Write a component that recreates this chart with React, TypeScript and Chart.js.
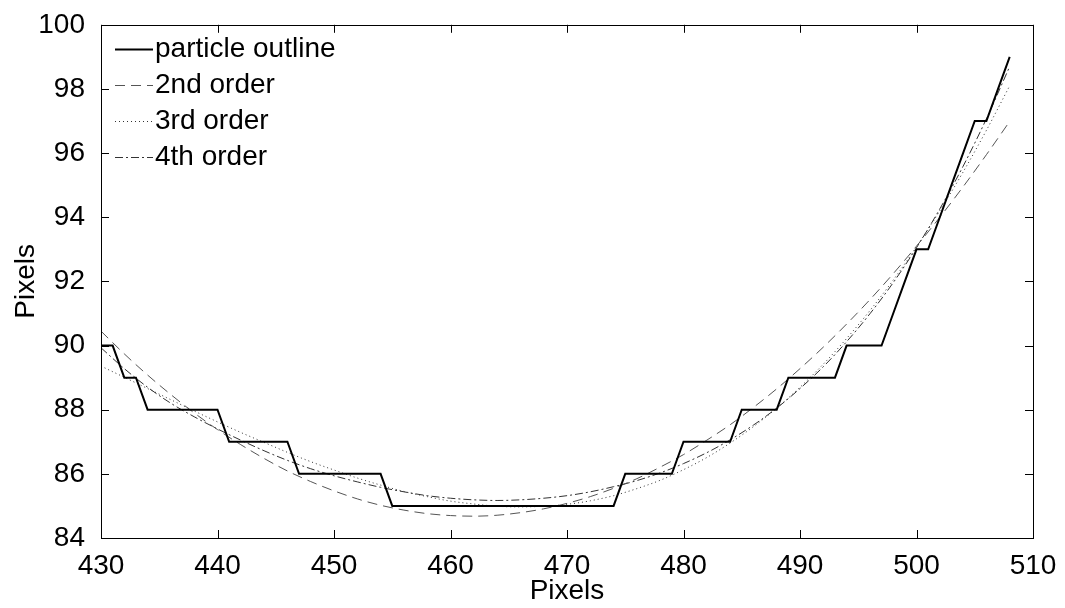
import React, { useEffect, useRef } from 'react';
import { Chart, registerables } from 'chart.js';

Chart.register(...registerables);

// ---- data ----
const outlineX = [430, 431, 432, 433, 434, 440, 441, 446, 447, 454, 455, 474, 475, 479, 480, 484, 485, 488, 489, 493, 494, 497, 498, 499, 500, 501, 502, 503, 504, 505, 506, 507, 508];
const outlineY = [90, 90, 89, 89, 88, 88, 87, 87, 86, 86, 85, 85, 86, 86, 87, 87, 88, 88, 89, 89, 90, 90, 91, 92, 93, 93, 94, 95, 96, 97, 97, 98, 99];

const fitX = [430, 432, 434, 436, 438, 440, 442, 444, 446, 448, 450, 452, 454, 456, 458, 460, 462, 464, 466, 468, 470, 472, 474, 476, 478, 480, 482, 484, 486, 488, 490, 492, 494, 496, 498, 500, 502, 504, 506, 508];
const order2Y = [90.45, 89.74, 89.08, 88.47, 87.90, 87.38, 86.91, 86.48, 86.09, 85.76, 85.47, 85.22, 85.02, 84.87, 84.76, 84.70, 84.68, 84.71, 84.79, 84.91, 85.08, 85.29, 85.55, 85.85, 86.21, 86.60, 87.05, 87.53, 88.07, 88.65, 89.28, 89.95, 90.67, 91.43, 92.24, 93.10, 94.00, 94.95, 95.95, 96.99];
const order3Y = [89.36, 89.01, 88.66, 88.31, 87.96, 87.62, 87.29, 86.98, 86.67, 86.38, 86.12, 85.87, 85.65, 85.45, 85.29, 85.15, 85.06, 84.99, 84.97, 84.99, 85.05, 85.16, 85.32, 85.54, 85.80, 86.13, 86.51, 86.96, 87.47, 88.05, 88.70, 89.42, 90.22, 91.09, 92.04, 93.08, 94.20, 95.41, 96.71, 98.10];
const order4Y = [89.93, 89.28, 88.70, 88.20, 87.78, 87.40, 87.05, 86.72, 86.42, 86.16, 85.94, 85.75, 85.58, 85.44, 85.32, 85.24, 85.19, 85.17, 85.19, 85.24, 85.32, 85.44, 85.60, 85.79, 86.03, 86.32, 86.66, 87.06, 87.52, 88.05, 88.66, 89.34, 90.12, 90.99, 91.96, 93.05, 94.26, 95.59, 97.07, 98.70];

const xTicks = [430, 440, 450, 460, 470, 480, 490, 500, 510];
const yTicks = [84, 86, 88, 90, 92, 94, 96, 98, 100];
const legendLabels = ['particle outline', '2nd order', '3rd order', '4th order'];
const axisTitle = 'Pixels';

const FONT = "'Liberation Sans', Arial, Helvetica, sans-serif";
const FONT_SIZE = 28;

export default function App() {
  const ref = useRef<HTMLCanvasElement>(null);

  useEffect(() => {
    const canvas = ref.current;
    if (!canvas) return;
    const toPts = (xs: number[], ys: number[]) => xs.map((x, i) => ({ x, y: ys[i] }));

    const boxPlugin = {
      id: 'matlabBox',
      afterDraw(chart: any) {
        const { ctx, chartArea } = chart;
        const { left, right, top, bottom } = chartArea;
        const xs = chart.scales.x;
        const ys = chart.scales.y;
        ctx.save();
        ctx.strokeStyle = '#000';
        ctx.lineWidth = 1;
        ctx.setLineDash([]);
        ctx.strokeRect(Math.round(left) + 0.5, Math.round(top) + 0.5, Math.round(right - left), Math.round(bottom - top));
        const tl = 8;
        ctx.beginPath();
        xTicks.forEach((v) => {
          const px = Math.round(xs.getPixelForValue(v)) + 0.5;
          ctx.moveTo(px, bottom);
          ctx.lineTo(px, bottom - tl);
          ctx.moveTo(px, top);
          ctx.lineTo(px, top + tl);
        });
        yTicks.forEach((v) => {
          const py = Math.round(ys.getPixelForValue(v)) + 0.5;
          ctx.moveTo(left, py);
          ctx.lineTo(left + tl, py);
          ctx.moveTo(right, py);
          ctx.lineTo(right - tl, py);
        });
        ctx.stroke();

        // legend (inside the axes, top-left, no box)
        const rowY = [49, 85, 121, 157];
        ctx.font = `${FONT_SIZE}px ${FONT}`;
        ctx.textBaseline = 'middle';
        ctx.textAlign = 'left';
        ctx.fillStyle = '#000';
        chart.data.datasets.forEach((ds: any, i: number) => {
          const y = Math.round(rowY[i]) + 0.5;
          ctx.beginPath();
          ctx.strokeStyle = ds.borderColor;
          ctx.lineWidth = ds.borderWidth;
          ctx.setLineDash(ds.borderDash || []);
          ctx.moveTo(115, y);
          ctx.lineTo(153, y);
          ctx.stroke();
          ctx.setLineDash([]);
          ctx.fillText(ds.label, 155, rowY[i]);
        });
        ctx.restore();
      },
    };

    const tickFont = { family: FONT, size: FONT_SIZE };

    const chart = new Chart(canvas, {
      type: 'line',
      data: {
        datasets: [
          {
            label: legendLabels[0],
            data: toPts(outlineX, outlineY),
            borderColor: '#000',
            borderWidth: 2,
            pointRadius: 0,
            tension: 0,
          },
          {
            label: legendLabels[1],
            data: toPts(fitX, order2Y),
            borderColor: '#555',
            borderWidth: 1,
            borderDash: [10, 6],
            pointRadius: 0,
            cubicInterpolationMode: 'monotone',
          },
          {
            label: legendLabels[2],
            data: toPts(fitX, order3Y),
            borderColor: '#333',
            borderWidth: 1,
            borderDash: [1, 3],
            pointRadius: 0,
            cubicInterpolationMode: 'monotone',
          },
          {
            label: legendLabels[3],
            data: toPts(fitX, order4Y),
            borderColor: '#333',
            borderWidth: 1,
            borderDash: [8, 3, 2, 3],
            pointRadius: 0,
            cubicInterpolationMode: 'monotone',
          },
        ] as any,
      },
      options: {
        animation: false,
        responsive: false,
        devicePixelRatio: 1,
        layout: { padding: { top: 22, right: 32, left: 0, bottom: 0 } },
        plugins: { legend: { display: false }, tooltip: { enabled: false } },
        scales: {
          x: {
            type: 'linear',
            min: 430,
            max: 510,
            afterBuildTicks: (s: any) => {
              s.ticks = xTicks.map((v) => ({ value: v }));
            },
            ticks: { color: '#000', font: tickFont, padding: 3, maxRotation: 0, autoSkip: false },
            grid: { display: false },
            border: { display: false },
            title: { display: true, text: axisTitle, color: '#000', font: tickFont, padding: { top: 0, bottom: 0 } },
            afterFit: (s: any) => {
              s.height = 70;
            },
          },
          y: {
            type: 'linear',
            min: 84,
            max: 100,
            afterBuildTicks: (s: any) => {
              s.ticks = yTicks.map((v) => ({ value: v }));
            },
            ticks: { color: '#000', font: tickFont, padding: 8, autoSkip: false },
            grid: { display: false },
            border: { display: false },
            title: { display: true, text: axisTitle, color: '#000', font: tickFont, padding: { top: 9, bottom: 0 } },
            afterFit: (s: any) => {
              s.width = 101;
            },
          },
        },
      } as any,
      plugins: [boxPlugin],
    });
    return () => chart.destroy();
  }, []);

  return (
    <div style={{ position: 'fixed', left: 0, top: 0, width: 1065, height: 608, background: '#fff' }}>
      <canvas ref={ref} width={1065} height={608} style={{ display: 'block', width: 1065, height: 608 }} />
    </div>
  );
}
